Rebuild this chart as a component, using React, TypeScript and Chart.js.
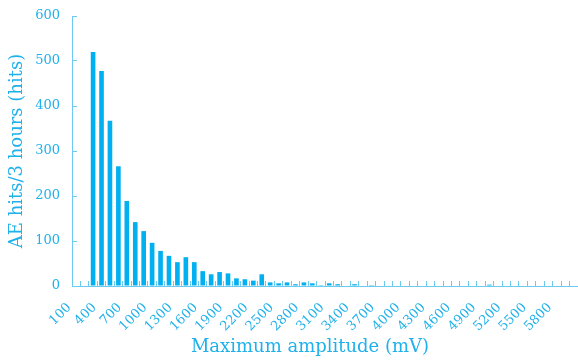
import { useEffect, useRef } from 'react';
import { Chart, registerables } from 'chart.js';

Chart.register(...registerables);

const categories = [
  '100', '200', '300', '400', '500', '600', '700', '800', '900', '1000',
  '1100', '1200', '1300', '1400', '1500', '1600', '1700', '1800', '1900', '2000',
  '2100', '2200', '2300', '2400', '2500', '2600', '2700', '2800', '2900', '3000',
  '3100', '3200', '3300', '3400', '3500', '3600', '3700', '3800', '3900', '4000',
  '4100', '4200', '4300', '4400', '4500', '4600', '4700', '4800', '4900', '5000',
  '5100', '5200', '5300', '5400', '5500', '5600', '5700', '5800', '5900', '6000',
];

const hits = [
  0, 0, 520, 478, 367, 266, 189, 142, 122, 96,
  78, 67, 53, 64, 53, 33, 26, 31, 28, 17,
  15, 12, 26, 8, 6, 8, 4, 8, 6, 2,
  6, 4, 0, 4, 0, 2, 0, 1, 0, 0,
  0, 0, 0, 0, 0, 0, 0, 0, 0, 3,
  0, 0, 0, 0, 0, 0, 0, 0, 0, 0,
];

const xTickLabels = [
  '100', '400', '700', '1000', '1300', '1600', '1900', '2200', '2500', '2800',
  '3100', '3400', '3700', '4000', '4300', '4600', '4900', '5200', '5500', '5800',
];

const yMin = 0;
const yMax = 600;
const yStep = 100;

const xTitle = 'Maximum amplitude (mV)';
const yTitle = 'AE hits/3 hours (hits)';

const TEXT = '#1fb1ea';
const AXIS = '#6cc9f0';
const BAR = '#00b0f0';
const FONT = "'DejaVu Serif', serif";

const xTitlePlugin = {
  id: 'xTitlePlugin',
  afterDraw(chart: any) {
    const { ctx, chartArea } = chart;
    ctx.save();
    ctx.font = `18px ${FONT}`;
    ctx.fillStyle = TEXT;
    ctx.textAlign = 'center';
    ctx.textBaseline = 'alphabetic';
    ctx.fillText(xTitle, (chartArea.left + chartArea.right) / 2 - 15, chart.height - 10);
    ctx.restore();
  },
};

export default function App() {
  const ref = useRef<HTMLCanvasElement | null>(null);

  useEffect(() => {
    if (!ref.current) return;
    const chart = new Chart(ref.current, {
      type: 'bar',
      data: {
        labels: categories,
        datasets: [
          {
            data: hits,
            backgroundColor: BAR,
            borderWidth: 0,
            categoryPercentage: 1,
            barPercentage: 0.55,
          },
        ],
      },
      plugins: [xTitlePlugin],
      options: {
        animation: false,
        responsive: false,
        maintainAspectRatio: false,
        layout: { padding: { left: 3, top: 16, right: 0, bottom: 0 } },
        plugins: {
          legend: { display: false },
          tooltip: { enabled: false },
        },
        scales: {
          x: {
            offset: true,
            grid: {
              offset: true,
              drawOnChartArea: false,
              drawTicks: true,
              tickLength: -5,
              color: AXIS,
            },
            border: { color: AXIS, width: 1 },
            ticks: {
              autoSkip: false,
              maxRotation: 45,
              minRotation: 45,
              padding: 19,
              labelOffset: -7,
              color: TEXT,
              font: { family: FONT, size: 13 },
              callback: (_v: any, i: number) =>
                xTickLabels.includes(categories[i]) ? categories[i] : '',
            },
            title: { display: false },
            afterFit: (s: any) => {
              s.height = 76;
              s.paddingLeft = 0;
              s.paddingRight = 0;
            },
          },
          y: {
            min: yMin,
            max: yMax,
            grid: {
              drawOnChartArea: false,
              drawTicks: true,
              tickLength: -5,
              color: AXIS,
            },
            border: { color: AXIS, width: 1 },
            ticks: {
              stepSize: yStep,
              padding: 17,
              color: TEXT,
              font: { family: FONT, size: 13 },
            },
            title: {
              display: true,
              text: yTitle,
              color: TEXT,
              font: { family: FONT, size: 18 },
              padding: { top: 4, bottom: 4 },
            },
            afterFit: (s: any) => {
              s.width = 69;
              s.paddingTop = 0;
              s.paddingBottom = 0;
            },
          },
        },
      },
    });
    return () => chart.destroy();
  }, []);

  return (
    <div style={{ position: 'fixed', left: 0, top: 0, width: 578, height: 362 }}>
      <canvas ref={ref} width={578} height={362} style={{ width: 578, height: 362, display: 'block' }} />
    </div>
  );
}
